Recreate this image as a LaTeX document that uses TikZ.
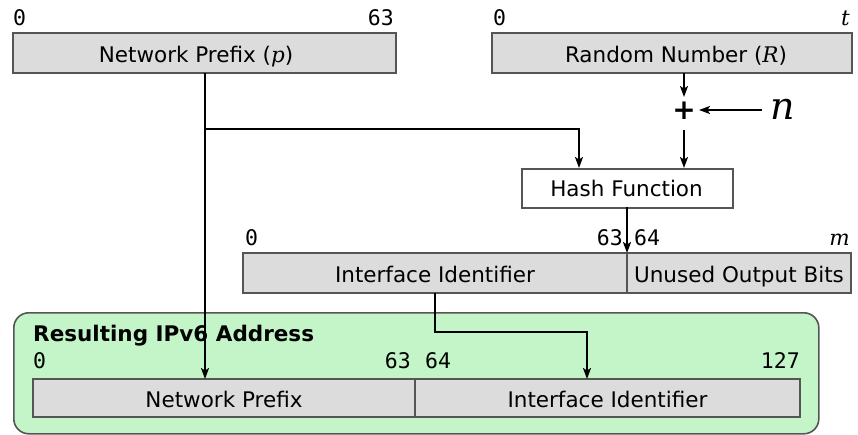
\documentclass[tikz,border=0pt]{standalone}
\usepackage{fontspec}
\setmainfont{DejaVu Sans}
\setmonofont{DejaVu Sans Mono}
\newfontfamily\serfam{DejaVu Serif}
\usetikzlibrary{arrows.meta}
\definecolor{boxgray}{HTML}{DCDCDC}
\definecolor{edgegray}{HTML}{555555}
\definecolor{resgreen}{HTML}{C3F5C9}
\newcommand{\vv}[1]{{\serfam\itshape #1}}
\tikzset{
  field/.style={draw=edgegray, fill=boxgray, line width=1.6},
  plainbox/.style={draw=edgegray, fill=white, line width=1.6},
  bitnum/.style={inner sep=0pt, font=\ttfamily\fontsize{21.5}{24}\selectfont},
  lbl/.style={inner sep=0pt, anchor=base, font=\fontsize{21.5}{24}\selectfont},
  conn/.style={line width=1.8, black},
  arr/.style={conn, -{Stealth[length=11pt,width=8pt,inset=2.5pt]}},
}
\begin{document}
\begin{tikzpicture}[x=1pt,y=-1pt]
\useasboundingbox (0,0) rectangle (858,435);
% result container
\node[draw=edgegray, fill=resgreen, line width=1.6, rounded corners=15pt, minimum width=805pt, minimum height=121pt, inner sep=0pt, anchor=north west] (res) at (13,312) {};
\node[inner sep=0pt, anchor=base west, font=\bfseries\fontsize{21.5}{24}\selectfont] (restitle) at (33,341) {Resulting IPv6 Address};

% Network prefix
\draw[field] (13,33) rectangle (396,73);
\node[lbl] (np) at (196,63) {Network Prefix (\vv{p})};
\coordinate (npb) at (205,73);
\node[bitnum, anchor=base west] (np0) at (13,26) {0};
\node[bitnum, anchor=base east] (np63) at (394,26) {63};

% Random number
\draw[field] (492,33) rectangle (852,73);
\node[lbl] (rn) at (676,63) {Random Number (\vv{R})};
\coordinate (rnb) at (684,73);
\node[bitnum, anchor=base west] (rn0) at (493,26) {0};
\node[inner sep=0pt, anchor=base east, font=\fontsize{21.5}{24}\selectfont] (rnt) at (850,26) {\vv{t}};

% plus and n
\node[inner sep=0pt, font=\bfseries\fontsize{28}{30}\selectfont] (plus) at (684,111) {+};
\node[inner sep=0pt, anchor=base, font=\fontsize{38}{40}\selectfont] (nn) at (783,120) {\vv{n}};
\coordinate (nstart) at (762,110);
\coordinate (ntip) at (699,110);
\draw[arr] (nstart) -- (ntip);
\draw[arr] (rnb) -- (684,97);

% Hash function
\node[plainbox, minimum width=211pt, minimum height=39pt, inner sep=0pt, anchor=north west] (hash) at (521,168) {};
\node[lbl] (hashlbl) at (626.5,197) {Hash Function};
\draw[arr] (684,130) -- (684,168);
\draw[arr] (npb) -- (205,129) -- (579,129) -- (579,168);

% Interface identifier row
\draw[field] (243,253) rectangle (851,293);
\draw[edgegray, line width=1.6] (627,253) -- (627,293);
\node[lbl] (iid) at (435,283) {Interface Identifier};
\node[lbl] (unused) at (739,283) {Unused Output Bits};
\node[bitnum, anchor=base west] (i0) at (245,246) {0};
\node[bitnum, anchor=base east] (i63) at (623,246) {63};
\node[bitnum, anchor=base west] (i64) at (634,246) {64};
\node[inner sep=0pt, anchor=base east, font=\fontsize{21.5}{24}\selectfont] (im) at (850,246) {\vv{m}};
\draw[arr] (627,207) -- (627,253);

% Result address row
\draw[field] (33,379) rectangle (800,417);
\draw[edgegray, line width=1.6] (415,379) -- (415,417);
\node[lbl] (rnp) at (224,407) {Network Prefix};
\node[lbl] (riid) at (607.5,407) {Interface Identifier};
\node[bitnum, anchor=base west] (r0) at (33,368) {0};
\node[bitnum, anchor=base east] (r63) at (411,368) {63};
\node[bitnum, anchor=base west] (r64) at (425,368) {64};
\node[bitnum, anchor=base east] (r127) at (800,368) {127};

\draw[arr] (npb) -- (205,379);
\draw[arr] (435,293) -- (435,332) -- (587,332) -- (587,379);
\end{tikzpicture}
\end{document}
